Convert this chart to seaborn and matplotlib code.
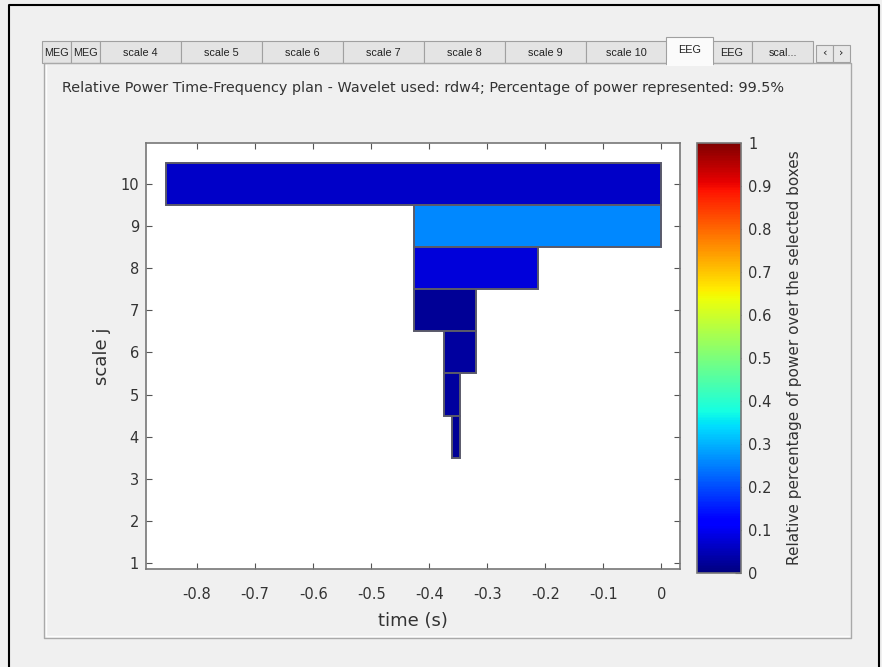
import numpy as np
import pandas as pd
import seaborn as sns
import matplotlib
import matplotlib.pyplot as plt
from matplotlib.patches import Rectangle
from matplotlib.colors import Normalize
from matplotlib.cm import ScalarMappable

# wavelet boxes kept for the EEG tab
scales = [10, 9, 8, 7, 6, 5, 4]
t_start = [-0.854, -0.427, -0.427, -0.427, -0.374, -0.374, -0.360]
t_end = [0.0, 0.0, -0.2135, -0.320, -0.320, -0.347, -0.347]
rel_power = [0.065, 0.26, 0.08, 0.02, 0.03, 0.03, 0.02]

x_ticks = [-0.8, -0.7, -0.6, -0.5, -0.4, -0.3, -0.2, -0.1, 0]
x_ticklabels = ['-0.8', '-0.7', '-0.6', '-0.5', '-0.4', '-0.3', '-0.2', '-0.1', '0']
y_ticks = [1, 2, 3, 4, 5, 6, 7, 8, 9, 10]
cb_ticks = [0, 0.1, 0.2, 0.3, 0.4, 0.5, 0.6, 0.7, 0.8, 0.9, 1]
cb_ticklabels = ['0', '0.1', '0.2', '0.3', '0.4', '0.5', '0.6', '0.7', '0.8', '0.9', '1']

tab_labels = ['MEG', 'MEG', 'scale 4', 'scale 5', 'scale 6', 'scale 7', 'scale 8',
              'scale 9', 'scale 10', 'EEG', 'EEG', 'scal...']
selected_tab = 9

title = ('Relative Power Time-Frequency plan - Wavelet used: rdw4; '
         'Percentage of power represented: 99.5%')

df = pd.DataFrame({'scale': scales, 'start': t_start, 'end': t_end, 'power': rel_power})
df['width'] = df['end'] - df['start']

sns.set_theme(style='white')
plt.rcParams['font.family'] = ['DejaVu Sans']

W, H = 882, 667
fig = plt.figure(figsize=(W / 100, H / 100), dpi=100, facecolor='#f0f0f0')


def rect(x0, y0, x1, y1):
    return [x0 / W, 1 - y1 / H, (x1 - x0) / W, (y1 - y0) / H]


# gui frame drawn in pixel coordinates
bg = fig.add_axes([0, 0, 1, 1], zorder=0)
bg.set_xlim(0, W)
bg.set_ylim(H, 0)
bg.axis('off')

bg.plot([9, 9, 879, 879], [H, 5, 5, H], color='black', lw=1.5)
bg.plot([44, 44, 851, 851, 44], [63, 638, 638, 63, 63], color='#a9a9a9', lw=1)
bg.plot([46, 46, 849], [65, 636, 636], color='#fdfdfd', lw=1)

tab_font = ['Liberation Sans Narrow', 'Liberation Sans', 'DejaVu Sans']
tab_edges = [42, 71, 100] + list(np.linspace(100, 667, 8)[1:]) + [712, 752, 813]
for i, lab in enumerate(tab_labels):
    x0, x1 = tab_edges[i], tab_edges[i + 1]
    if i == selected_tab:
        continue
    bg.add_patch(Rectangle((x0, 41), x1 - x0, 22, facecolor='#e4e4e4',
                           edgecolor='#a0a0a0', lw=0.8))
    bg.text((x0 + x1) / 2, 53, lab, ha='center', va='center', fontsize=7.8,
            family=tab_font, color='#222222')
x0, x1 = tab_edges[selected_tab], tab_edges[selected_tab + 1]
bg.add_patch(Rectangle((x0 - 1, 37), x1 - x0 + 2, 27, facecolor='#fbfbfb',
                       edgecolor='#a0a0a0', lw=0.8, zorder=3))
bg.add_patch(Rectangle((x0 - 0.5, 60), x1 - x0 + 1, 6, facecolor='#fbfbfb',
                       edgecolor='none', zorder=4))
bg.text((x0 + x1) / 2, 50, tab_labels[selected_tab], ha='center', va='center',
        fontsize=7.8, family=tab_font, color='#222222', zorder=5)
for bx, arrow in [(816, '\u2039'), (833, '\u203a')]:
    bg.add_patch(Rectangle((bx, 45), 17, 17, facecolor='#e8e8e8', edgecolor='#a0a0a0', lw=0.8))
    bg.text(bx + 8.5, 53, arrow, ha='center', va='center', fontsize=8, color='#222222')

bg.text(62, 88, title, ha='left', va='center', fontsize=10.4, color='#333333')

# main time-frequency axes
cmap = matplotlib.colormaps['jet']
norm = Normalize(0, 1)

ax = fig.add_axes(rect(146, 143, 680, 569), zorder=1)
ax.set_facecolor('white')
ax.barh(df['scale'], df['width'], left=df['start'], height=1,
        color=cmap(norm(df['power'])), edgecolor='#5a5a6a', linewidth=1.4)
ax.set_xlim(-0.888, 0.032)
ax.set_ylim(0.86, 10.97)
ax.set_xticks(x_ticks, x_ticklabels)
ax.set_yticks(y_ticks)
ax.tick_params(direction='in', length=4, width=0.8, color='#555555', labelcolor='#333333',
               labelsize=10.5, top=True, right=True, left=True, bottom=True)
ax.tick_params(axis='x', pad=13)
ax.tick_params(axis='y', pad=5)
for sp in ax.spines.values():
    sp.set_color('#777777')
    sp.set_linewidth(1.2)
ax.set_xlabel('time (s)', fontsize=13, color='#333333', labelpad=7)
ax.set_ylabel('scale j', fontsize=13, color='#333333', labelpad=7)
ax.grid(False)

cax = fig.add_axes(rect(697, 143, 741, 573), zorder=1)
cb = fig.colorbar(ScalarMappable(norm=norm, cmap=cmap), cax=cax)
cb.set_ticks(cb_ticks, labels=cb_ticklabels)
cb.ax.tick_params(direction='in', length=4, width=0.8, color='#555555', labelcolor='#333333',
                  labelsize=10.5, pad=5)
cb.outline.set_edgecolor('#777777')
cb.outline.set_linewidth(1.2)
cb.set_label('Relative percentage of power over the selected boxes', fontsize=11,
             color='#333333', labelpad=11)

fig.savefig('out.png', dpi=100, facecolor=fig.get_facecolor())
